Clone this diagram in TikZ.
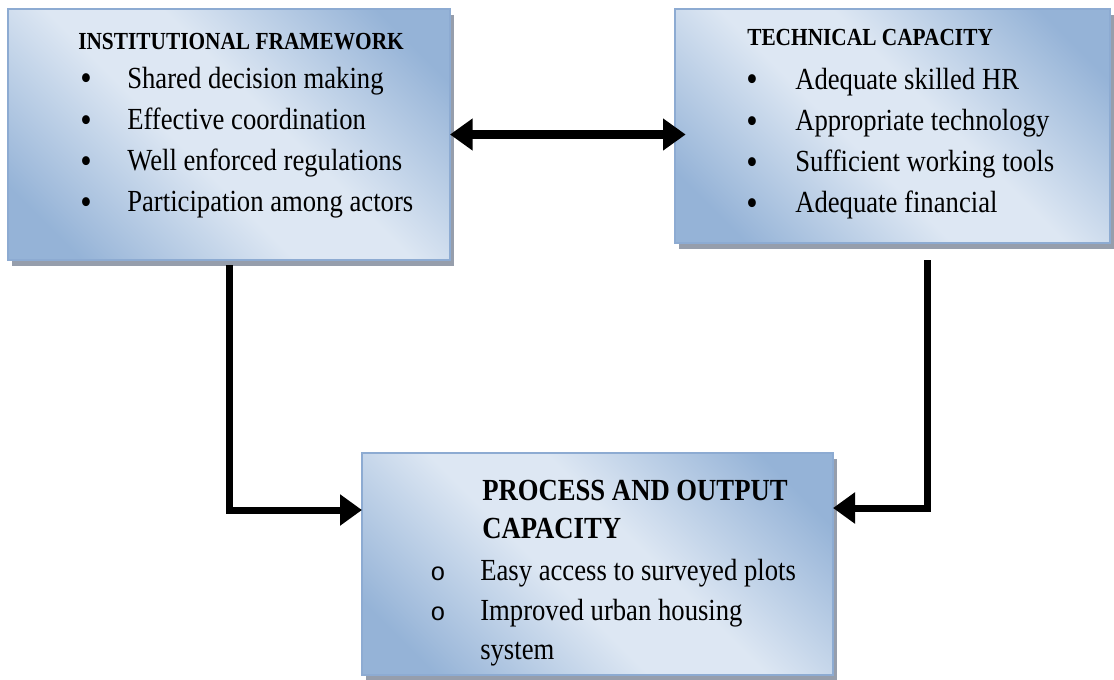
\documentclass[tikz,border=0pt]{standalone}
\usepackage{fontspec}
\setmainfont{Liberation Serif}[FakeStretch=0.87]
\newfontfamily\circfont{Liberation Mono}
\usetikzlibrary{arrows.meta,shadows}
\definecolor{boxlight}{RGB}{221,231,243}
\definecolor{boxdark}{RGB}{149,179,215}
\definecolor{boxline}{RGB}{141,171,210}
\definecolor{shadowgray}{RGB}{150,158,172}
\pgfdeclarehorizontalshading{boxshade}{100bp}{color(0bp)=(boxdark); color(22bp)=(boxdark); color(44bp)=(boxlight); color(56bp)=(boxlight); color(78bp)=(boxdark); color(100bp)=(boxdark)}
\tikzset{
  box/.style={draw=boxline, line width=1.2pt, shading=boxshade, shading angle=45,
    inner sep=0pt, outer sep=0pt,
    drop shadow={shadow xshift=3pt, shadow yshift=-4.5pt, fill=shadowgray, opacity=1}},
  head/.style={anchor=base west, inner sep=0pt, font=\bfseries\fontsize{18.4}{21}\selectfont},
  bighead/.style={anchor=base west, inner sep=0pt, font=\bfseries\fontsize{23}{27}\selectfont},
  item/.style={anchor=base west, inner sep=0pt, font=\fontsize{23}{27}\selectfont},
  dot/.style={inner sep=0pt, font=\fontsize{28}{30}\selectfont},
  circ/.style={anchor=base, inner sep=0pt, font=\circfont\fontsize{19}{21}\selectfont},
  link/.style={line width=5.25pt, -{Triangle[length=16.5pt, width=22.5pt]}},
}
\begin{document}
\begin{tikzpicture}[x=0.75pt, y=-0.75pt]
            \useasboundingbox (0,0) rectangle (1114,679);
            % Boxes
            \node[box, minimum width=331.5pt, minimum height=188.25pt] (inst) at (229,134.5) {};
            \node[box, minimum width=326.25pt, minimum height=175.5pt] (tech) at (892.5,126) {};
            \node[box, minimum width=353.25pt, minimum height=166.5pt] (proc) at (597.5,564) {};
            % Institutional framework
            \node[head] (inst-h) at (78,49) {INSTITUTIONAL FRAMEWORK};
            \foreach \t [count=\i] in {Shared decision making, Effective coordination,
                Well enforced regulations, Participation among actors} {
                \node[dot] (inst-b\i) at (86,41+41.3*\i) {•};
                \node[item] (inst-\i) at (127,46.7+41.3*\i) {\t};
            }
            % Technical capacity
            \node[head] (tech-h) at (747,45) {TECHNICAL CAPACITY};
            \foreach \t [count=\i] in {Adequate skilled HR, Appropriate technology,
                Sufficient working tools, Adequate financial} {
                \node[dot] (tech-b\i) at (752,42+41.3*\i) {•};
                \node[item] (tech-\i) at (795,47.7+41.3*\i) {\t};
            }
            % Process and output capacity
            \node[bighead] (proc-h1) at (482,500) {PROCESS AND OUTPUT};
            \node[bighead] (proc-h2) at (482,538) {CAPACITY};
            \node[circ] (proc-b1) at (438,580) {o};
            \node[item] (proc-1) at (480,580) {Easy access to surveyed plots};
            \node[circ] (proc-b2) at (438,620) {o};
            \node[item] (proc-2) at (480,620) {Improved urban housing};
            \node[item] (proc-3) at (480,659) {system};
            % Arrows
            \draw[line width=7pt, {Triangle[length=17pt, width=23pt]}-{Triangle[length=17pt, width=23pt]},
                shorten >=-8pt] (inst.east) -- (inst.east -| tech.west);
            \draw[link, shorten <=4pt] (inst.south) |- ([yshift=40.5pt]proc.west);
            \draw[link, shorten <=12.75pt] ([xshift=26.6pt]tech.south) |- ([yshift=42pt]proc.east);
        \end{tikzpicture}
\end{document}
